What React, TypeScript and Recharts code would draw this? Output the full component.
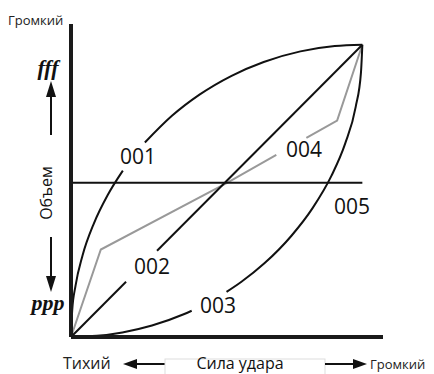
import { LineChart, Line, XAxis, YAxis, ReferenceDot } from "recharts";

// velocity (x) vs volume (y), 0..127 plus some headroom for the axes
// each curve is split where its label sits on it
const curve001a = [
	{ x: 0, y: 0 },
	{ x: 0.5, y: 11.3 },
	{ x: 2, y: 22.4 },
	{ x: 5, y: 35.3 },
	{ x: 10, y: 49.4 },
	{ x: 16, y: 61.7 },
	{ x: 22.6, y: 72.3 }
];
const curve001b = [
	{ x: 32.2, y: 84.5 },
	{ x: 44, y: 96.1 },
	{ x: 56, y: 105.3 },
	{ x: 70, y: 113.5 },
	{ x: 84, y: 119.5 },
	{ x: 100, y: 124.1 },
	{ x: 115, y: 126.4 },
	{ x: 127, y: 127 }
];

const curve002a = [
	{ x: 0, y: 0 },
	{ x: 24, y: 24 }
];
const curve002b = [
	{ x: 37.5, y: 37.5 },
	{ x: 127, y: 127 }
];

const curve003a = [
	{ x: 0, y: 0 },
	{ x: 11.3, y: 0.5 },
	{ x: 22.4, y: 2 },
	{ x: 35.3, y: 5 },
	{ x: 49.4, y: 10 },
	{ x: 52.6, y: 11.4 }
];
const curve003b = [
	{ x: 67.8, y: 19.6 },
	{ x: 74.3, y: 24 },
	{ x: 84.3, y: 32 },
	{ x: 96.1, y: 44 },
	{ x: 105.3, y: 56 },
	{ x: 113.5, y: 70 },
	{ x: 119.5, y: 84 },
	{ x: 124.1, y: 100 },
	{ x: 126.4, y: 115 },
	{ x: 127, y: 127 }
];

const curve004a = [
	{ x: 0, y: 0 },
	{ x: 13, y: 38 },
	{ x: 68, y: 67 },
	{ x: 89.5, y: 79.1 }
];
const curve004b = [
	{ x: 102.6, y: 86.5 },
	{ x: 116, y: 94 },
	{ x: 127, y: 127 }
];

const curve005 = [
	{ x: 0, y: 67 },
	{ x: 127, y: 67 }
];

const curveLabels = [
	{ name: "001", x: 29.2, y: 78.6 },
	{ name: "002", x: 35.3, y: 30.4 },
	{ name: "003", x: 64.1, y: 13.5 },
	{ name: "004", x: 101.6, y: 81.3 },
	{ name: "005", x: 122.5, y: 56.5 }
];

const dynTicks = [117.3, 15.2];
const dynNames: Record<number, string> = { 117.3: "fff", 15.2: "ppp" };

const sans = "'Open Sans', 'Noto Sans', sans-serif";

const blackSegments = [curve005, curve002a, curve002b, curve001a, curve001b, curve003a, curve003b];
const graySegments = [curve004a, curve004b];

const DynTick = (props: any) => {
	const { y, payload } = props;
	return (
		<text
			x={48}
			y={y}
			textAnchor="middle"
			dominantBaseline="central"
			fontFamily="'Liberation Serif', serif"
			fontStyle="italic"
			fontWeight="bold"
			fontSize={22}
			fill="#111">
			{dynNames[payload.value]}
		</text>
	);
};

const Overlay = () => (
	<svg
		width={434}
		height={374}
		style={{ position: "absolute", left: 0, top: 0, pointerEvents: "none" }}>
		<text x={8} y={25} fontFamily={sans} fontSize={13} fill="#222">
			Громкий
		</text>
		{/* volume arrows */}
		<line x1={51} y1={135} x2={51} y2={95} stroke="#111" strokeWidth={2} />
		<polygon points="51,81 46,97 56,97" fill="#111" />
		<line x1={51} y1={237} x2={51} y2={278} stroke="#111" strokeWidth={2} />
		<polygon points="51,292 46,276 56,276" fill="#111" />
		<text
			x={46}
			y={193}
			transform="rotate(-90 46 193)"
			textAnchor="middle"
			dominantBaseline="central"
			fontFamily={sans}
			fontSize={16}
			fill="#111">
			Объем
		</text>
		{/* velocity arrows */}
		<text x={63} y={369} fontFamily={sans} fontSize={16} fill="#222">
			Тихий
		</text>
		<polygon points="123,364 137,359 137,369" fill="#111" />
		<line x1={135} y1={364} x2={165} y2={364} stroke="#111" strokeWidth={2} />
		<rect x={165} y={359} width={160} height={16} fill="none" stroke="#ddd" strokeWidth={1} />
		<text x={240} y={369} textAnchor="middle" fontFamily={sans} fontSize={16} fill="#111">
			Сила удара
		</text>
		<line x1={325} y1={364} x2={355} y2={364} stroke="#111" strokeWidth={2} />
		<polygon points="367,364 353,359 353,369" fill="#111" />
		<text x={370} y={369} fontFamily={sans} fontSize={13} fill="#222">
			Громкий
		</text>
	</svg>
);

export default function App() {
	return (
		<div style={{ position: "absolute", left: 0, top: 0, width: 434, height: 374, background: "#fff" }}>
			<LineChart
				width={434}
				height={374}
				margin={{ top: 24, right: 51, bottom: 36, left: 70 }}>
				<XAxis
					type="number"
					dataKey="x"
					domain={[0, 136]}
					height={1}
					tick={false}
					tickLine={false}
					axisLine={{ stroke: "#1a1a1a", strokeWidth: 4 }}
				/>
				<YAxis
					type="number"
					dataKey="y"
					domain={[0, 136]}
					width={1}
					ticks={dynTicks}
					tick={<DynTick />}
					tickLine={false}
					axisLine={{ stroke: "#1a1a1a", strokeWidth: 4 }}
				/>
				{graySegments.map((seg, i) => (
					<Line key={"g" + i} data={seg} dataKey="y" type="linear" stroke="#999" strokeWidth={2} dot={false} isAnimationActive={false} />
				))}
				{blackSegments.map((seg, i) => (
					<Line key={"b" + i} data={seg} dataKey="y" type="monotone" stroke="#111" strokeWidth={2} dot={false} isAnimationActive={false} />
				))}
				{curveLabels.map((c) => (
					<ReferenceDot
						key={c.name}
						x={c.x}
						y={c.y}
						r={0}
						fill="none"
						stroke="none"
						label={{ value: c.name, position: "center", fontFamily: sans, fontSize: 21, fill: "#111" }}
					/>
				))}
			</LineChart>
			<Overlay />
		</div>
	);
}
